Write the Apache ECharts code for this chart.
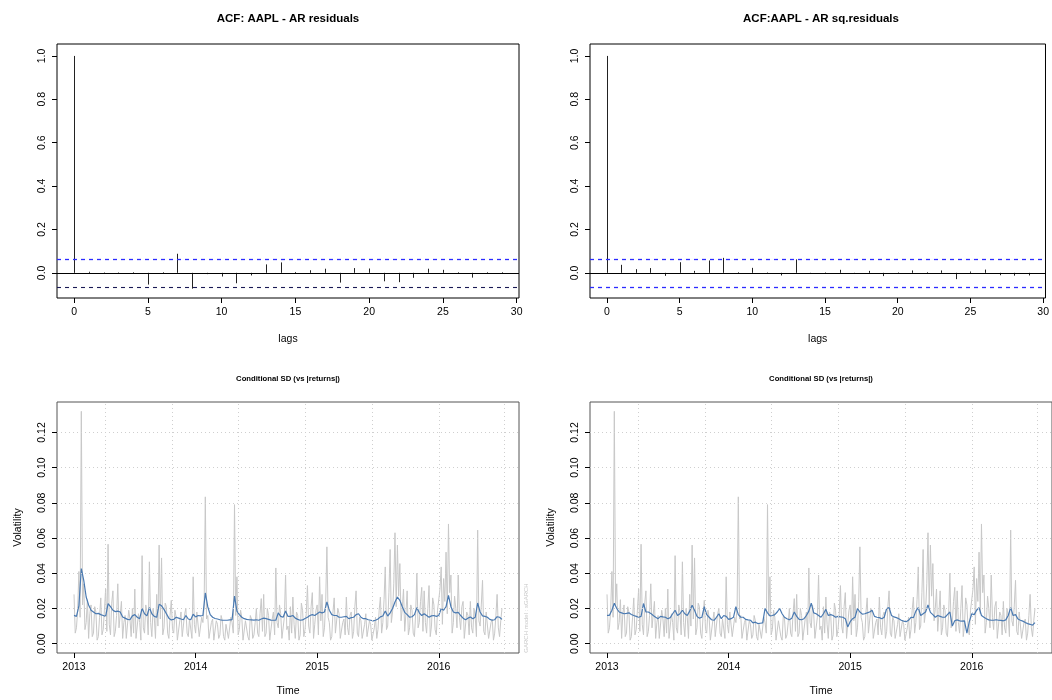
<!DOCTYPE html>
<html>
<head>
<meta charset="utf-8">
<script src="https://cdn.jsdelivr.net/npm/echarts@6/dist/echarts.min.js"></script>
<style>
html,body{margin:0;padding:0;background:#fff;}
#chart{width:1052px;height:700px;}
</style>
</head>
<body>
<div id="chart"></div>
<script>
// ---------------- DATA ----------------
const acfLags = [0,1,2,3,4,5,6,7,8,9,10,11,12,13,14,15,16,17,18,19,20,21,22,23,24,25,26,27,28,29];
const acfResid = [1.0,0.005,0.002,0.002,0.003,-0.054,0.003,0.088,-0.073,-0.006,-0.017,-0.048,-0.012,0.039,0.048,0.004,0.012,0.019,-0.045,0.022,0.020,-0.039,-0.043,-0.023,0.019,0.014,0.003,-0.022,0.003,0.003];
const acfSqResid = [1.0,0.037,0.017,0.022,-0.014,0.049,0.009,0.057,0.069,0.003,0.023,0.002,-0.012,0.062,-0.003,0.002,0.014,-0.003,0.009,-0.015,0.002,0.011,0.003,0.011,-0.029,0.006,0.015,-0.011,-0.013,-0.012];
const confBound = 0.066;
const lagTicks = [0,5,10,15,20,25,30];
const acfTicks = [0,0.2,0.4,0.6,0.8,1.0];

// time index (decimal years)
const startYear = 2013.0;
const stepAbs = 0.01;     // |returns| sampled every 0.01 year
const stepSigma = 0.02;   // conditional SD sampled every 0.02 year
const yearTicks = [2013,2014,2015,2016];
const volTicks = [0,0.02,0.04,0.06,0.08,0.10,0.12];
// dates of the dotted vertical grid (every 200 days: 15800 ... 17000 days since 1970)
const gridDates = [2013.2575,2013.8055,2014.3534,2014.9014,2015.4493,2015.9973,2016.5437];

const absReturns = [
 0.028,0.006,0.009,0.019,0.041,0.015,0.132,0.022,0.034,0.008,
 0.012,0.025,0.003,0.017,0.022,0.004,0.006,0.021,0.018,0.002,
 0.004,0.015,0.026,0.005,0.008,0.019,0.031,0.007,0.0565,0.011,
 0.005,0.023,0.030,0.004,0.007,0.016,0.034,0.009,0.010,0.024,
 0.003,0.012,0.016,0.003,0.002,0.019,0.014,0.004,0.020,0.006,
 0.031,0.003,0.004,0.017,0.012,0.002,0.050,0.009,0.006,0.022,
 0.018,0.005,0.0465,0.012,0.004,0.020,0.015,0.003,0.028,0.010,
 0.056,0.014,0.0487,0.005,0.009,0.023,0.021,0.006,0.003,0.016,
 0.0246,0.008,0.006,0.019,0.015,0.002,0.002,0.013,0.018,0.004,
 0.005,0.017,0.020,0.006,0.004,0.014,0.013,0.003,0.038,0.011,
 0.006,0.018,0.017,0.004,0.003,0.015,0.012,0.021,0.0834,0.014,
 0.016,0.003,0.004,0.012,0.014,0.002,0.002,0.013,0.011,0.003,
 0.005,0.016,0.013,0.004,0.002,0.011,0.010,0.003,0.004,0.015,
 0.012,0.006,0.079,0.016,0.038,0.005,0.008,0.019,0.015,0.002,
 0.003,0.013,0.012,0.004,0.002,0.016,0.014,0.003,0.005,0.012,
 0.020,0.006,0.004,0.017,0.0256,0.007,0.028,0.004,0.006,0.020,
 0.016,0.002,0.003,0.014,0.018,0.005,0.043,0.012,0.009,0.022,
 0.017,0.003,0.004,0.015,0.039,0.008,0.010,0.002,0.021,0.006,
 0.0265,0.011,0.003,0.018,0.016,0.002,0.005,0.023,0.019,0.004,
 0.008,0.017,0.033,0.010,0.006,0.021,0.029,0.003,0.011,0.019,
 0.022,0.005,0.038,0.013,0.028,0.004,0.009,0.024,0.055,0.015,
 0.012,0.002,0.004,0.018,0.026,0.006,0.007,0.020,0.017,0.003,
 0.003,0.012,0.014,0.005,0.0265,0.009,0.005,0.016,0.018,0.003,
 0.007,0.021,0.030,0.006,0.004,0.015,0.013,0.003,0.002,0.011,
 0.017,0.004,0.003,0.013,0.011,0.002,0.002,0.009,0.015,0.003,
 0.008,0.019,0.0265,0.006,0.012,0.025,0.0436,0.008,0.010,0.029,
 0.0535,0.012,0.018,0.034,0.063,0.021,0.056,0.027,0.0455,0.013,
 0.020,0.031,0.007,0.017,0.030,0.005,0.009,0.022,0.019,0.006,
 0.004,0.017,0.040,0.009,0.012,0.024,0.032,0.007,0.030,0.012,
 0.006,0.020,0.033,0.004,0.010,0.026,0.022,0.008,0.005,0.019,
 0.018,0.031,0.0436,0.011,0.037,0.024,0.052,0.017,0.068,0.029,
 0.039,0.006,0.012,0.027,0.020,0.009,0.039,0.015,0.008,0.021,
 0.024,0.003,0.004,0.018,0.016,0.005,0.024,0.009,0.006,0.020,
 0.015,0.004,0.0645,0.013,0.010,0.022,0.036,0.007,0.005,0.018,
 0.017,0.003,0.003,0.012,0.014,0.002,0.006,0.016,0.028,0.009,
 0.004,0.013,0.020];

const sigmaLeft = [0.0161,0.0155,0.0215,0.0427,0.036,0.0265,0.022,0.019,0.018,0.017,
 0.0172,0.0165,0.016,0.0155,0.0228,0.021,0.019,0.0182,0.0185,0.018,
 0.0152,0.0145,0.0138,0.0136,0.0158,0.0165,0.015,0.0142,0.02,0.017,
 0.0158,0.0205,0.017,0.0155,0.015,0.0224,0.0215,0.0195,0.017,0.0145,
 0.0135,0.0138,0.015,0.0145,0.014,0.0136,0.016,0.014,0.0136,0.0167,
 0.0152,0.016,0.0158,0.016,0.0288,0.021,0.0165,0.015,0.0143,0.014,
 0.0136,0.0133,0.0133,0.0133,0.0135,0.0136,0.027,0.0185,0.0165,0.015,
 0.0142,0.0138,0.0136,0.0135,0.0134,0.0136,0.0133,0.014,0.0145,0.0142,
 0.0138,0.0134,0.0133,0.0133,0.0175,0.0155,0.015,0.0186,0.0155,0.0155,
 0.016,0.0145,0.0138,0.0133,0.0135,0.0143,0.015,0.016,0.0165,0.016,
 0.017,0.018,0.0175,0.018,0.0237,0.019,0.0165,0.016,0.016,0.015,
 0.015,0.0153,0.0155,0.0142,0.0148,0.015,0.0165,0.017,0.015,0.0142,
 0.0142,0.0136,0.0133,0.013,0.0133,0.014,0.0152,0.0157,0.0185,0.0157,
 0.0175,0.02,0.0237,0.0265,0.0246,0.021,0.0178,0.0165,0.015,0.0153,
 0.0165,0.0205,0.0175,0.016,0.017,0.016,0.015,0.0158,0.016,0.0155,
 0.016,0.02,0.019,0.021,0.0275,0.021,0.018,0.0175,0.0178,0.016,
 0.0145,0.0136,0.0145,0.0152,0.0142,0.015,0.0231,0.018,0.0158,0.0155,
 0.015,0.0138,0.0133,0.0136,0.0153,0.015,0.0138];

const sigmaRight = [0.0161,0.0161,0.019,0.023,0.02,0.018,0.0175,0.017,0.0172,0.0175,
 0.0166,0.016,0.0155,0.015,0.0155,0.0228,0.018,0.018,0.0172,0.016,
 0.015,0.0142,0.0155,0.0152,0.015,0.0142,0.0148,0.017,0.019,0.016,
 0.017,0.019,0.017,0.016,0.0185,0.0218,0.019,0.0155,0.0145,0.015,
 0.021,0.0165,0.015,0.0136,0.0133,0.015,0.017,0.0142,0.016,0.0155,
 0.0138,0.0142,0.015,0.021,0.0165,0.015,0.015,0.0138,0.0135,0.0133,
 0.0118,0.0122,0.0114,0.0116,0.0118,0.02,0.0175,0.0158,0.016,0.0165,
 0.018,0.02,0.017,0.015,0.0142,0.0136,0.0145,0.018,0.0155,0.0138,
 0.0136,0.0142,0.016,0.0185,0.023,0.0175,0.017,0.016,0.015,0.017,
 0.0195,0.016,0.0165,0.016,0.015,0.0155,0.0152,0.015,0.0142,0.0095,
 0.0125,0.0142,0.015,0.02,0.018,0.0168,0.017,0.0175,0.018,0.019,
 0.0155,0.015,0.0148,0.0142,0.015,0.02,0.0205,0.016,0.0152,0.0148,
 0.0142,0.0133,0.0128,0.0125,0.0133,0.015,0.0148,0.0185,0.0205,0.016,
 0.017,0.018,0.022,0.0178,0.0165,0.015,0.016,0.0155,0.015,0.015,
 0.0165,0.018,0.01,0.013,0.0135,0.013,0.0128,0.013,0.006,0.0125,
 0.017,0.0165,0.019,0.0205,0.016,0.015,0.0142,0.0135,0.0133,0.0133,
 0.0136,0.0133,0.0132,0.013,0.0135,0.016,0.0205,0.016,0.0165,0.014,
 0.0133,0.0128,0.012,0.0114,0.011,0.0105,0.012];

// ---------------- CHART ----------------
const FONT = 'Liberation Sans, Arial, Helvetica, sans-serif';
const absData = absReturns.map((y, i) => [startYear + i * stepAbs, y]);
const sigmaData = (vals) => vals.map((y, i) => [startYear + i * stepSigma, y]);

const chart = echarts.init(document.getElementById('chart'), null, {renderer: 'canvas'});

const gridTop = {top: 44, width: 462, height: 254, show: true, borderColor: '#000', borderWidth: 1, backgroundColor: 'transparent'};
const gridBot = {top: 402, width: 462, height: 251, show: true, borderColor: '#555', borderWidth: 1, backgroundColor: 'transparent'};

const tickStyle = {show: true, length: 5, inside: false, lineStyle: {color: '#000', width: 1}};
const labelStyle = {margin: 9, fontSize: 10.5, color: '#000', fontFamily: FONT};
const nameStyle = {fontSize: 10.5, color: '#000', fontFamily: FONT};

function lagAxis(gi) {
  return {
    type: 'value', gridIndex: gi, min: -1.16, max: 30.16, position: 'bottom',
    axisLine: {show: false, onZero: false},
    axisTick: Object.assign({customValues: lagTicks}, tickStyle),
    axisLabel: Object.assign({customValues: lagTicks}, labelStyle),
    splitLine: {show: false},
    name: 'lags', nameLocation: 'middle', nameGap: 36, nameTextStyle: nameStyle
  };
}
function acfYAxis(gi) {
  return {
    type: 'value', gridIndex: gi, min: -0.116, max: 1.055, position: 'left',
    axisLine: {show: false, onZero: false},
    axisTick: Object.assign({customValues: acfTicks}, tickStyle),
    axisLabel: Object.assign({customValues: acfTicks, rotate: 90, formatter: v => v.toFixed(1)}, labelStyle),
    splitLine: {show: false}
  };
}
function timeAxis(gi) {
  return {
    type: 'value', gridIndex: gi, min: 2012.86, max: 2016.66, position: 'bottom',
    axisLine: {show: false, onZero: false},
    axisTick: Object.assign({customValues: yearTicks}, tickStyle),
    axisLabel: Object.assign({customValues: yearTicks, formatter: v => String(Math.round(v))}, labelStyle),
    splitLine: {show: false},
    name: 'Time', nameLocation: 'middle', nameGap: 33, nameTextStyle: nameStyle
  };
}
function volAxis(gi) {
  return {
    type: 'value', gridIndex: gi, min: -0.0053, max: 0.1373, position: 'left',
    axisLine: {show: false, onZero: false},
    axisTick: Object.assign({customValues: volTicks}, tickStyle),
    axisLabel: Object.assign({customValues: volTicks, rotate: 90, formatter: v => v.toFixed(2)}, labelStyle),
    splitLine: {show: false},
    name: 'Volatility', nameLocation: 'middle', nameGap: 33, nameTextStyle: nameStyle
  };
}

function acfSeries(idx, values) {
  return {
    type: 'custom', xAxisIndex: idx, yAxisIndex: idx, z: 3,
    data: acfLags.map((l, i) => [l, values[i]]),
    renderItem: function (params, api) {
      const p0 = api.coord([api.value(0), 0]);
      const p1 = api.coord([api.value(0), api.value(1)]);
      const x = Math.round(p0[0]) + 0.5;
      return {type: 'line', shape: {x1: x, y1: p0[1], x2: x, y2: p1[1]},
        style: {stroke: '#222', lineWidth: 1}};
    }
  };
}
// horizontal reference lines spanning the whole plot region
function refLines(idx, specs) {
  return {
    type: 'custom', xAxisIndex: idx, yAxisIndex: idx, z: 4, silent: true,
    data: specs.map(s => [0, s.value]),
    renderItem: function (params, api) {
      const s = specs[params.dataIndex];
      const cs = params.coordSys;
      const y = Math.round(api.coord([0, api.value(1)])[1]) + 0.5;
      return {type: 'line', shape: {x1: cs.x, y1: y, x2: cs.x + cs.width, y2: y},
        style: {stroke: s.color, fill: null, lineWidth: s.width, lineDash: s.dash ? [4, 4] : null, opacity: 1}};
    }
  };
}

function gridSeries(idx) {
  const lines = gridDates.map(d => ({xAxis: d}))
    .concat(volTicks.map(v => ({yAxis: v})));
  return {
    type: 'line', xAxisIndex: idx, yAxisIndex: idx, z: 1, data: [],
    markLine: {
      silent: true, symbol: ['none', 'none'], label: {show: false}, animation: false,
      lineStyle: {color: '#cfcfcf', type: [1, 3], width: 1},
      data: lines
    }
  };
}
function absSeries(idx) {
  return {type: 'line', xAxisIndex: idx, yAxisIndex: idx, z: 2, data: absData, smooth: false,
    showSymbol: false, symbol: 'none', lineStyle: {color: '#c8c8c8', width: 1}, silent: true};
}
function sigmaSeries(idx, vals) {
  return {type: 'line', xAxisIndex: idx, yAxisIndex: idx, z: 3, data: sigmaData(vals), smooth: false,
    showSymbol: false, symbol: 'none', lineStyle: {color: '#4a7ab2', width: 1.2}, silent: true};
}

const txt = (x, y, text, font, fill, rot) => ({
  type: 'text', x: x, y: y, rotation: rot || 0, silent: true,
  style: {text: text, font: font, fill: fill, textAlign: 'center', textVerticalAlign: 'middle', align: 'center', verticalAlign: 'middle'}
});

const option = {
  animation: false,
  backgroundColor: '#fff',
  grid: [
    Object.assign({left: 57}, gridTop),
    Object.assign({left: 590}, gridTop),
    Object.assign({left: 57}, gridBot),
    Object.assign({left: 590}, gridBot)
  ],
  xAxis: [lagAxis(0), lagAxis(1), timeAxis(2), timeAxis(3)],
  yAxis: [acfYAxis(0), acfYAxis(1), volAxis(2), volAxis(3)],
  series: [
    acfSeries(0, acfResid),
    refLines(0, [
      {value: 0, color: '#000000', dash: false, width: 1},
      {value: confBound, color: '#2b2bff', dash: true, width: 1.3},
      {value: -confBound, color: '#1a1a55', dash: true, width: 1.1}
    ]),
    acfSeries(1, acfSqResid),
    refLines(1, [
      {value: 0, color: '#000000', dash: false, width: 1},
      {value: confBound, color: '#2b2bff', dash: true, width: 1.3},
      {value: -confBound, color: '#2b2bff', dash: true, width: 1.3}
    ]),
    gridSeries(2), absSeries(2), sigmaSeries(2, sigmaLeft),
    gridSeries(3), absSeries(3), sigmaSeries(3, sigmaRight)
  ],
  graphic: [
    txt(288, 19, 'ACF: AAPL - AR residuals', 'bold 11.5px ' + FONT, '#000'),
    txt(821, 19, 'ACF:AAPL - AR sq.residuals', 'bold 11.5px ' + FONT, '#000'),
    txt(288, 379, 'Conditional SD (vs |returns|)', 'bold 7.7px ' + FONT, '#000'),
    txt(821, 379, 'Conditional SD (vs |returns|)', 'bold 7.7px ' + FONT, '#000'),
    txt(526, 618, 'GARCH model : sGARCH', '6px ' + FONT, '#c8c8c8', Math.PI / 2)
  ]
};
chart.setOption(option);
</script>
</body>
</html>
